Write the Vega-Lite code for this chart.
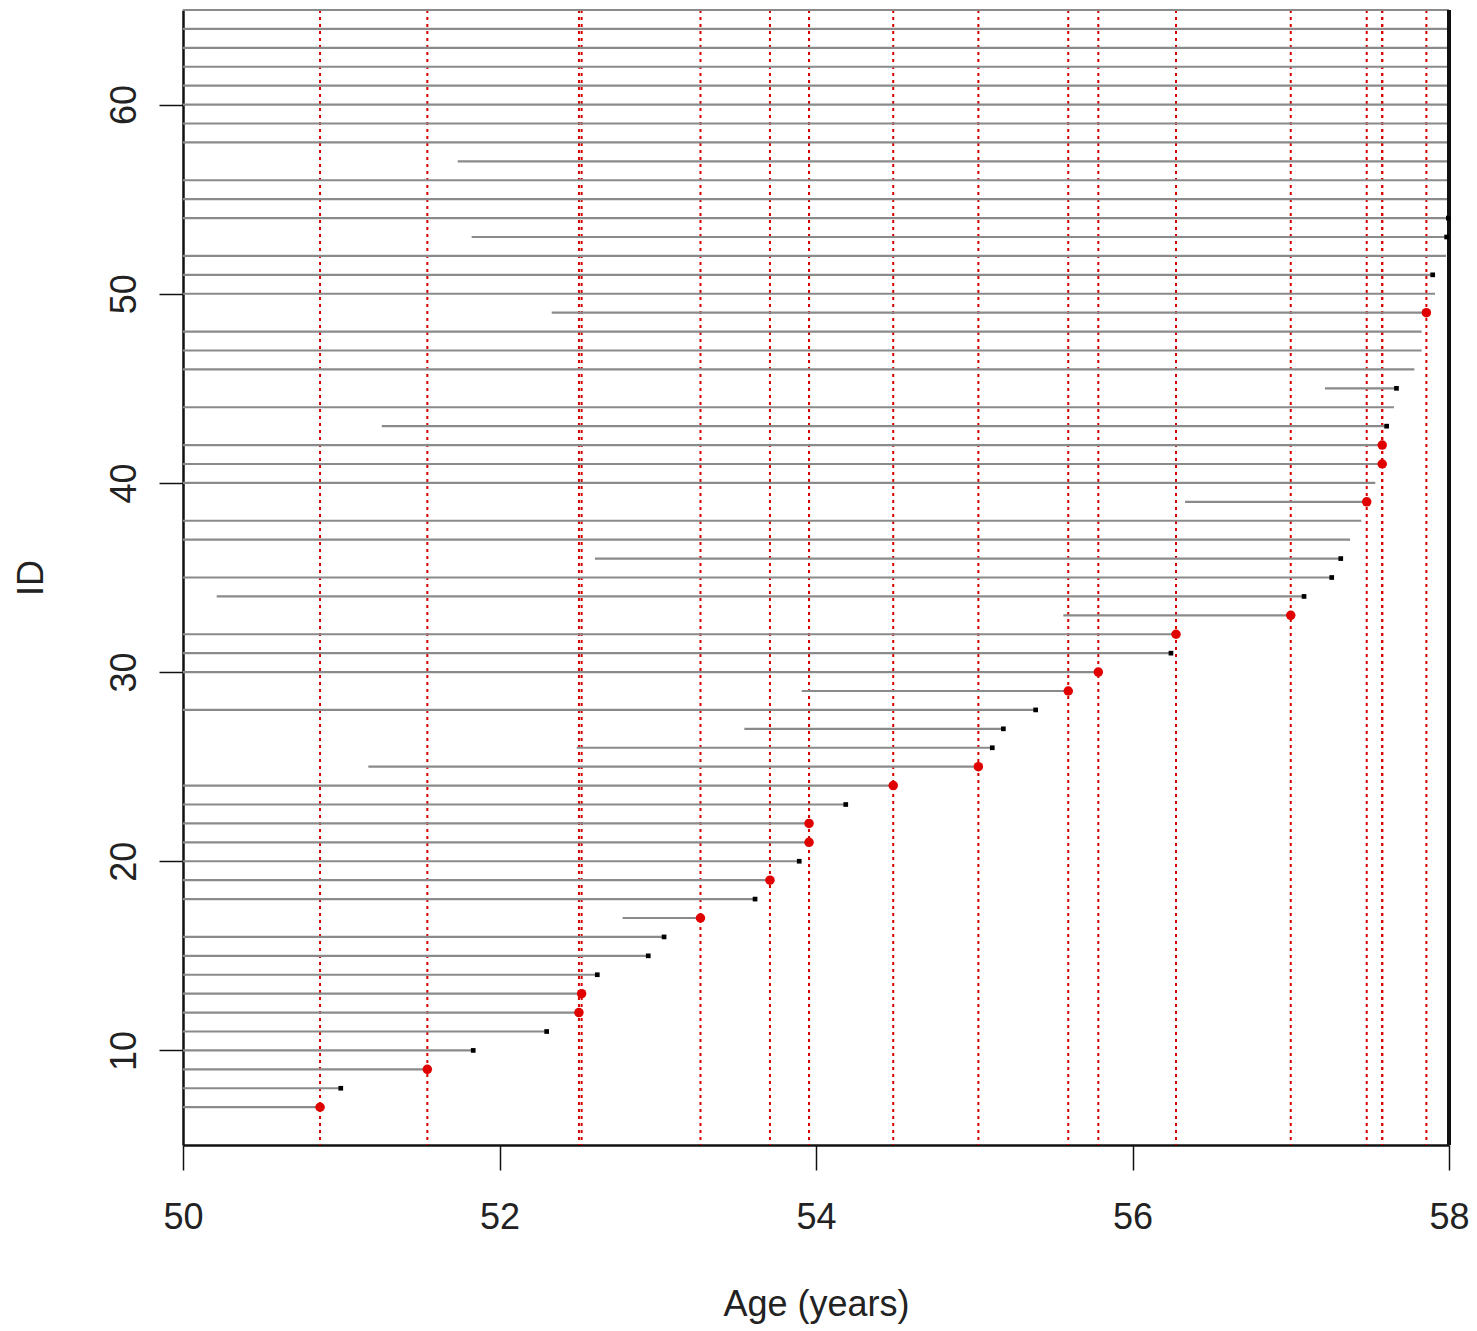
{
  "$schema": "https://vega.github.io/schema/vega-lite/v6.json",
  "autosize": {"type": "none"},
  "width": 1266,
  "height": 1135,
  "padding": {"left": 183, "top": 10, "right": 28, "bottom": 186},
  "background": "white",
  "config": {
    "view": {"stroke": null},
    "font": "Liberation Sans",
    "axis": {"grid": false}
  },
  "data": {
    "values": [
      {"id": 7, "start": 50, "end": 50.866, "status": "event"},
      {"id": 8, "start": 50, "end": 50.997, "status": "censored"},
      {"id": 9, "start": 50, "end": 51.544, "status": "event"},
      {"id": 10, "start": 50, "end": 51.834, "status": "censored"},
      {"id": 11, "start": 50, "end": 52.298, "status": "censored"},
      {"id": 12, "start": 50, "end": 52.502, "status": "event"},
      {"id": 13, "start": 50, "end": 52.519, "status": "event"},
      {"id": 14, "start": 50, "end": 52.618, "status": "censored"},
      {"id": 15, "start": 50, "end": 52.94, "status": "censored"},
      {"id": 16, "start": 50, "end": 53.04, "status": "censored"},
      {"id": 17, "start": 52.778, "end": 53.27, "status": "event"},
      {"id": 18, "start": 50, "end": 53.615, "status": "censored"},
      {"id": 19, "start": 50, "end": 53.709, "status": "event"},
      {"id": 20, "start": 50, "end": 53.894, "status": "censored"},
      {"id": 21, "start": 50, "end": 53.956, "status": "event"},
      {"id": 22, "start": 50, "end": 53.956, "status": "event"},
      {"id": 23, "start": 50, "end": 54.188, "status": "censored"},
      {"id": 24, "start": 50, "end": 54.488, "status": "event"},
      {"id": 25, "start": 51.171, "end": 55.026, "status": "event"},
      {"id": 26, "start": 52.488, "end": 55.114, "status": "censored"},
      {"id": 27, "start": 53.547, "end": 55.184, "status": "censored"},
      {"id": 28, "start": 50, "end": 55.388, "status": "censored"},
      {"id": 29, "start": 53.91, "end": 55.594, "status": "event"},
      {"id": 30, "start": 50, "end": 55.784, "status": "event"},
      {"id": 31, "start": 50, "end": 56.243, "status": "censored"},
      {"id": 32, "start": 50, "end": 56.275, "status": "event"},
      {"id": 33, "start": 55.563, "end": 57.0, "status": "event"},
      {"id": 34, "start": 50.213, "end": 57.084, "status": "censored"},
      {"id": 35, "start": 50, "end": 57.259, "status": "censored"},
      {"id": 36, "start": 52.603, "end": 57.316, "status": "censored"},
      {"id": 37, "start": 50, "end": 57.375, "status": "open"},
      {"id": 38, "start": 50, "end": 57.446, "status": "open"},
      {"id": 39, "start": 56.332, "end": 57.48, "status": "event"},
      {"id": 40, "start": 50, "end": 57.534, "status": "open"},
      {"id": 41, "start": 50, "end": 57.578, "status": "event"},
      {"id": 42, "start": 50, "end": 57.578, "status": "event"},
      {"id": 43, "start": 51.256, "end": 57.606, "status": "censored"},
      {"id": 44, "start": 50, "end": 57.652, "status": "open"},
      {"id": 45, "start": 57.216, "end": 57.668, "status": "censored"},
      {"id": 46, "start": 50, "end": 57.781, "status": "open"},
      {"id": 47, "start": 50, "end": 57.827, "status": "open"},
      {"id": 48, "start": 50, "end": 57.827, "status": "open"},
      {"id": 49, "start": 52.33, "end": 57.857, "status": "event"},
      {"id": 50, "start": 50, "end": 57.912, "status": "open"},
      {"id": 51, "start": 50, "end": 57.897, "status": "censored"},
      {"id": 52, "start": 50, "end": 57.981, "status": "open"},
      {"id": 53, "start": 51.824, "end": 57.985, "status": "censored"},
      {"id": 54, "start": 50, "end": 57.996, "status": "censored"},
      {"id": 55, "start": 50, "end": 58, "status": "open"},
      {"id": 56, "start": 50, "end": 58, "status": "open"},
      {"id": 57, "start": 51.736, "end": 58, "status": "open"},
      {"id": 58, "start": 50, "end": 58, "status": "open"},
      {"id": 59, "start": 50, "end": 58, "status": "open"},
      {"id": 60, "start": 50, "end": 58, "status": "open"},
      {"id": 61, "start": 50, "end": 58, "status": "open"},
      {"id": 62, "start": 50, "end": 58, "status": "open"},
      {"id": 63, "start": 50, "end": 58, "status": "open"},
      {"id": 64, "start": 50, "end": 58, "status": "open"},
      {"id": 65, "start": 50, "end": 58, "status": "open"}
    ]
  },
  "encoding": {
    "y": {
      "field": "id", "type": "quantitative",
      "scale": {"domain": [5, 65], "nice": false, "zero": false},
      "axis": {
        "values": [10, 20, 30, 40, 50, 60],
        "format": "d",
        "title": "ID",
        "titleFont": "Liberation Sans", "titleFontSize": 36, "titleFontWeight": "normal",
        "titleColor": "#222", "titlePadding": 56,
        "labelFont": "Liberation Sans", "labelFontSize": 36, "labelColor": "#222",
        "labelAngle": -90, "labelAlign": "center", "labelBaseline": "bottom",
        "labelPadding": 16,
        "tickSize": 24, "tickColor": "#111", "tickWidth": 1.5,
        "domainColor": "#111", "domainWidth": 2.5
      }
    }
  },
  "layer": [
    {
      "transform": [{"filter": "datum.status === 'event'"}],
      "mark": {"type": "rule", "color": "#d40000", "strokeWidth": 2, "strokeDash": [3, 4]},
      "encoding": {
        "x": {"field": "end", "type": "quantitative"},
        "y": null
      }
    },
    {
      "mark": {"type": "rule", "color": "#8a8a8a", "strokeWidth": 2.2},
      "encoding": {
        "x": {
          "field": "start", "type": "quantitative",
          "scale": {"domain": [50, 58], "nice": false, "zero": false},
          "axis": {
            "values": [50, 52, 54, 56, 58],
            "format": "d",
            "title": "Age (years)",
            "titleFont": "Liberation Sans", "titleFontSize": 36, "titleFontWeight": "normal",
            "titleColor": "#222", "titlePadding": 52,
            "labelFont": "Liberation Sans", "labelFontSize": 36, "labelColor": "#222",
            "labelPadding": 30, "labelFlush": false,
            "tickSize": 25, "tickColor": "#111", "tickWidth": 1.5,
            "domainColor": "#111", "domainWidth": 2.5
          }
        },
        "x2": {"field": "end"}
      }
    },
    {
      "mark": {"type": "rule", "color": "#111", "strokeWidth": 2.5},
      "encoding": {
        "x": {"datum": 58, "type": "quantitative"},
        "y": null
      }
    },
    {
      "transform": [{"filter": "datum.status === 'censored'"}],
      "mark": {"type": "point", "shape": "square", "filled": true, "color": "#000", "size": 22, "opacity": 1},
      "encoding": {
        "x": {"field": "end", "type": "quantitative"}
      }
    },
    {
      "transform": [{"filter": "datum.status === 'event'"}],
      "mark": {"type": "point", "shape": "circle", "filled": true, "color": "#e00000", "size": 90, "opacity": 1},
      "encoding": {
        "x": {"field": "end", "type": "quantitative"}
      }
    }
  ]
}
